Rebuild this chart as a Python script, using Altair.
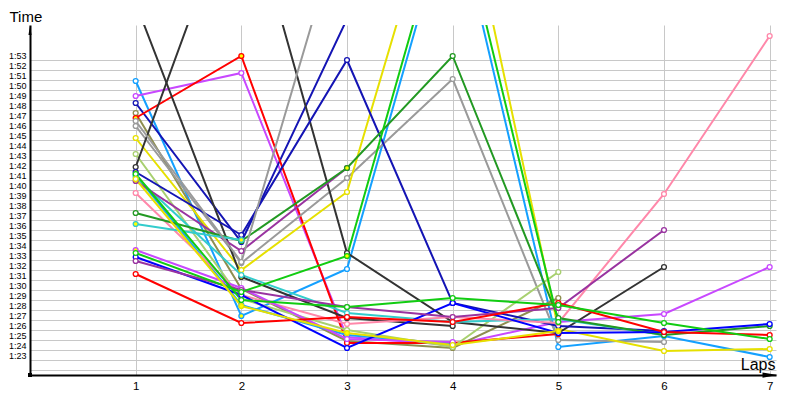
import altair as alt
import pandas as pd

# ---- data (lap times in seconds; 1:23 = 83) ----
laps = [1, 2, 3, 4, 5, 6, 7]
ytick_seconds = list(range(82, 114))   # 1:22 .. 1:53 (1:22 unlabeled)

names = ["s01", "s02", "s03", "s04", "s05", "s06", "s07", "s08", "s09", "s10",
         "s11", "s12", "s13", "s14", "s15", "s16", "s17", "s18", "s19", "s20",
         "s21", "s22", "s23", "s24", "s25"]

colors = ["#14A0FF", "#C848FF", "#1414B4", "#8E8E50", "#FF0000", "#9A9A9A", "#E6E000",
          "#A8D070", "#333333", "#333333", "#1414B4", "#14A0FF", "#33CCCC", "#9933A0",
          "#FF88AA", "#229922", "#33CCCC", "#C848FF", "#0000FF", "#9933A0", "#FF0000",
          "#11CC11", "#11CC11", "#9A9A9A", "#E6E000"]

s01 = [110.4, 86.9, 91.6, 128.7, 83.8, 84.9, 82.8]
s02 = [108.9, 111.2, 84.8, 84.0, 86.3, 87.1, 91.8]
s03 = [108.2, 94.3, 116.6]
s04 = [107.2, 89.6, 84.4, 83.7, 88.7]
s05 = [106.7, 112.9, 84.2, 84.2, 85.1]
s06 = [105.9, 92.2, 100.7, 110.6, 84.5, 84.3]
s07 = [104.7, 91.5, 99.3, 135.0, 85.6, 83.4, 83.6]
s08 = [103.1, 88.6, 85.5, 83.8, 91.3]
s09 = [101.8, 130.7, 93.2, 86.3, 85.2, 91.8]
s10 = [118.2, 90.8, 86.7, 85.9]
s11 = [101.3, 95.0, 112.5, 88.2, 85.9, 85.4]
s12 = [101.0, 88.0, 85.0, 84.1]
s13 = [100.8, 91.0, 87.2, 86.3, 86.6, 85.0]
s14 = [100.4, 93.4, 101.7]
s15 = [99.2, 89.0, 86.1, 86.8, 86.2, 99.1, 114.9]
s16 = [97.2, 94.4, 101.7, 112.9, 86.7, 85.0, 85.9]
s17 = [96.1, 94.5]
s18 = [93.5, 89.7, 84.6, 84.3]
s19 = [92.8, 89.0, 83.7, 88.2, 85.2, 85.3, 86.1]
s20 = [92.4, 89.5, 87.8, 86.8, 87.7, 95.5]
s21 = [91.1, 86.2, 86.8, 86.3, 88.2, 85.3, 85.0]
s22 = [93.2, 89.3, 92.9, 129.9, 86.3]
s23 = [101.1, 88.5, 87.8, 88.7, 88.0, 86.2, 84.6]
s24 = [106.4, 92.3, 128.0]
s25 = [100.6, 87.9, 85.2, 84.0, 85.4]

series = [s01, s02, s03, s04, s05, s06, s07, s08, s09, s10, s11, s12, s13,
          s14, s15, s16, s17, s18, s19, s20, s21, s22, s23, s24, s25]

# laps drawn with a yellow-filled marker
pit_laps = {"s01": [2], "s05": [1, 2, 4, 5], "s10": [2, 3], "s11": [1, 4],
            "s13": [1], "s14": [1, 3], "s16": [3], "s17": [1, 2], "s18": [1],
            "s22": [3], "s25": [2, 3, 5]}

rows = []
for name, vals in zip(names, series):
    for lap, v in zip(laps, vals):
        rows.append({"driver": name, "lap": lap, "t": v,
                     "pit": lap in pit_laps.get(name, [])})
df = pd.DataFrame(rows)

FONT = "Liberation Sans"

x = alt.X("lap:Q",
          scale=alt.Scale(domain=[0, 7.06], nice=False, zero=False),
          axis=alt.Axis(values=laps, grid=True, gridColor="#C8C8C8", gridWidth=1,
                        domainColor="black", domainWidth=2, ticks=False,
                        labelPadding=5, labelFontSize=11.5, labelFont=FONT,
                        labelColor="black", labelBaseline="top", labelOverlap=False,
                        title="Laps", titleX=745, titleY=-6, titleAlign="right",
                        titleBaseline="alphabetic", titleFontSize=16,
                        titleFontWeight="normal", titleFont=FONT, titleColor="black"))

y = alt.Y("t:Q",
          scale=alt.Scale(domain=[81, 116], nice=False, zero=False),
          axis=alt.Axis(values=ytick_seconds, tickOffset=5, labelOffset=-5,
                        labelExpr="datum.value < 83 ? '' : '1:' + (datum.value - 60)",
                        labelOverlap=False,
                        grid=True, gridColor="#C8C8C8", gridWidth=1, ticks=False,
                        domainColor="black", domainWidth=2, labelPadding=4,
                        labelFontSize=9, labelFont=FONT, labelColor="black",
                        title="Time", titleAngle=0, titleX=-21, titleY=-16,
                        titleAlign="left", titleBaseline="top",
                        titleFontSize=15, titleFontWeight="normal",
                        titleFont=FONT, titleColor="black"))

color = alt.Color("driver:N", scale=alt.Scale(domain=names, range=colors), legend=None)

base = alt.Chart(df)

lines = base.mark_line(clip=True, strokeWidth=2).encode(
    x=x, y=y, color=color, order="lap:Q")

points = base.mark_point(clip=True, shape="circle", filled=False, size=24,
                         strokeWidth=1.3, opacity=1, fillOpacity=1).encode(
    x=x, y=y, color=color,
    fill=alt.condition("datum.pit", alt.value("#FFFF00"), alt.value("white")))

one = pd.DataFrame({"k": [0]})
y_arrow = alt.Chart(one).mark_point(
    shape="M 0 -1 L 0.3 1 L -0.3 1 Z", filled=True, color="black", size=100,
    opacity=1).encode(x=alt.value(0), y=alt.value(5))
x_arrow = alt.Chart(one).mark_point(
    shape="M 1 0 L -1 -0.35 L -1 0.35 Z", filled=True, color="black", size=225,
    opacity=1).encode(x=alt.value(740), y=alt.value(350))
origin = alt.Chart(one).mark_point(
    shape="square", filled=True, color="black", size=16,
    opacity=1).encode(x=alt.value(0), y=alt.value(350))

chart = alt.layer(lines, points, y_arrow, x_arrow, origin).properties(
    width=746, height=350,
    padding={"left": 22, "top": 17, "right": 16, "bottom": 17},
    autosize=alt.AutoSizeParams(type="none"),
    background="white",
).configure_view(stroke=None)

chart.save("out.html", embed_options={"renderer": "svg", "actions": False})
